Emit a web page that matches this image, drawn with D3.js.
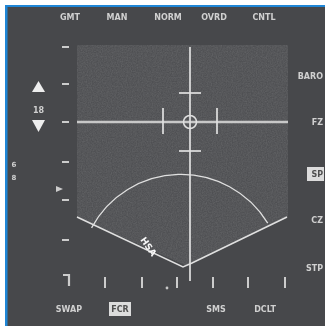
<!DOCTYPE html>
<html>
<head>
<meta charset="utf-8">
<script src="https://cdn.jsdelivr.net/npm/d3@7"></script>
<style>
  html, body { margin: 0; padding: 0; background: #fff; }
  svg { display: block; }
</style>
</head>
<body>
<div id="mfd"></div>
<script>
// Labels around the MFD (OSB legends)
const topLabels = ["GMT", "MAN", "NORM", "OVRD", "CNTL"];
const topLabelX = [70, 117, 168, 214, 264];
const rightLabels = ["BARO", "FZ", "SP", "CZ", "STP"];
const rightLabelY = [76, 122, 174, 220, 268];
const bottomLabels = ["SWAP", "FCR", "SMS", "DCLT"];
const bottomLabelX = [69, 120, 216, 265];
const boxedLabels = ["SP", "FCR"];
const rangeScaleText = "18";
const sideText = ["6", "8"];

// Tick marks (display units)
const rangeTicks = [47, 84, 122, 162, 200, 240];
const azTicks = [105, 142, 177, 213, 248, 285];

// Radar picture geometry (display units)
const radarArea = [[77, 45], [288, 45], [288, 217], [187, 266], [77, 217]];
const cursorX = 190, cursorY = 122;
const cursorTop = 47, cursorBottom = 281;
const cursorLeft = 77, cursorRight = 288;
const cursorHTicks = [93, 151];      // short horizontal bars on vertical line
const cursorVTicks = [163, 217];     // short vertical bars on horizontal line
const fovLine = [[77, 217], [183, 267], [192, 263], [287, 217]];
const rangeArc = { cx: 181, cy: 276, r: 101.6, from: 208.3, to: 328.6 };
const targetMark = { x: 148, y: 247, text: "HSA" };

const width = 325, height = 326;
const x = d3.scaleLinear().domain([0, 325]).range([0, width]);
const y = d3.scaleLinear().domain([0, 326]).range([0, height]);

const svg = d3.select("#mfd").append("svg")
  .attr("width", width).attr("height", height);

const defs = svg.append("defs");
const blur = defs.append("filter").attr("id", "soft");
blur.append("feGaussianBlur").attr("stdDeviation", 0.55);

const noise = defs.append("filter").attr("id", "noise")
  .attr("x", 0).attr("y", 0).attr("width", 1).attr("height", 1);
noise.append("feTurbulence").attr("type", "fractalNoise")
  .attr("baseFrequency", 0.8).attr("numOctaves", 2).attr("seed", 4);
noise.append("feColorMatrix").attr("type", "matrix")
  .attr("values", "0 0 0 0 1  0 0 0 0 1  0 0 0 0 1  0.16 0 0 0 -0.04");
noise.append("feComposite").attr("in2", "SourceGraphic").attr("operator", "in");

// frame: white margin, blue border, dark screen
svg.append("rect").attr("width", width).attr("height", height).attr("fill", "#fff");
svg.append("rect").attr("x", x(5)).attr("y", y(5))
  .attr("width", width - x(5)).attr("height", height - y(5)).attr("fill", "#1f86d6");
svg.append("rect").attr("x", x(7.5)).attr("y", y(7))
  .attr("width", width - x(7.5)).attr("height", height - y(7)).attr("fill", "#47484b");

// radar video area
const area = d3.line().x(d => x(d[0])).y(d => y(d[1]));
svg.append("path").attr("d", area(radarArea) + "Z").attr("fill", "#4f5053");
svg.append("path").attr("d", area(radarArea) + "Z").attr("fill", "#fff")
  .attr("filter", "url(#noise)");

const g = svg.append("g").attr("filter", "url(#soft)");
const ink = "#e0e0e0";

// cursor cross
g.append("line").attr("x1", x(cursorLeft)).attr("x2", x(cursorRight))
  .attr("y1", y(cursorY)).attr("y2", y(cursorY))
  .attr("stroke", "#c8c8c8").attr("stroke-width", 2.4);
g.append("line").attr("x1", x(cursorX)).attr("x2", x(cursorX))
  .attr("y1", y(cursorTop)).attr("y2", y(cursorBottom))
  .attr("stroke", ink).attr("stroke-width", 1.7);
g.selectAll(".hbar").data(cursorHTicks).enter().append("line")
  .attr("x1", x(cursorX - 11)).attr("x2", x(cursorX + 11))
  .attr("y1", d => y(d)).attr("y2", d => y(d))
  .attr("stroke", ink).attr("stroke-width", 1.7);
g.selectAll(".vbar").data(cursorVTicks).enter().append("line")
  .attr("x1", d => x(d)).attr("x2", d => x(d))
  .attr("y1", y(cursorY - 14)).attr("y2", y(cursorY + 12))
  .attr("stroke", ink).attr("stroke-width", 1.7);
g.append("circle").attr("cx", x(cursorX)).attr("cy", y(cursorY)).attr("r", 6.5)
  .attr("fill", "none").attr("stroke", ink).attr("stroke-width", 1.5);

// field of view lines and range arc
g.append("path").attr("d", area(fovLine))
  .attr("fill", "none").attr("stroke", ink).attr("stroke-width", 1.5);
const arcPath = d3.path();
const a0 = rangeArc.from * Math.PI / 180, a1 = rangeArc.to * Math.PI / 180;
arcPath.moveTo(x(rangeArc.cx + rangeArc.r * Math.cos(a0)), y(rangeArc.cy + rangeArc.r * Math.sin(a0)));
arcPath.arc(x(rangeArc.cx), y(rangeArc.cy), rangeArc.r, a0, a1, false);
g.append("path").attr("d", arcPath.toString())
  .attr("fill", "none").attr("stroke", ink).attr("stroke-width", 1.3);

// target symbol on the line
g.append("text").attr("x", x(targetMark.x)).attr("y", y(targetMark.y))
  .attr("transform", `rotate(55,${x(targetMark.x)},${y(targetMark.y)})`)
  .attr("text-anchor", "middle").attr("dominant-baseline", "middle")
  .attr("font-family", "DejaVu Sans").attr("font-weight", "bold").attr("font-size", 9)
  .attr("fill", "#f8f8f8").text(targetMark.text);

// left range ticks
g.selectAll(".rt").data(rangeTicks).enter().append("line")
  .attr("x1", x(62)).attr("x2", x(69))
  .attr("y1", d => y(d)).attr("y2", d => y(d))
  .attr("stroke", "#cccccc").attr("stroke-width", 2);
g.append("path")
  .attr("d", `M${x(56)},${y(186)}L${x(63)},${y(189)}L${x(56)},${y(192)}Z`)
  .attr("fill", "#cccccc");

// bottom azimuth ticks
g.selectAll(".at").data(azTicks).enter().append("line")
  .attr("x1", d => x(d)).attr("x2", d => x(d))
  .attr("y1", y(277)).attr("y2", y(288))
  .attr("stroke", "#cccccc").attr("stroke-width", 2);
g.append("path").attr("d", `M${x(63)},${y(275)}L${x(69)},${y(275)}L${x(69)},${y(286)}`)
  .attr("fill", "none").attr("stroke", "#cccccc").attr("stroke-width", 2.2);
g.append("circle").attr("cx", x(167)).attr("cy", y(288)).attr("r", 1.4).attr("fill", "#c8c8c8");

// range scale arrows
g.append("path").attr("d", `M${x(38.5)},${y(81)}L${x(45)},${y(92)}L${x(32)},${y(92)}Z`).attr("fill", "#eee");
g.append("path").attr("d", `M${x(32)},${y(120)}L${x(45)},${y(120)}L${x(38.5)},${y(132)}Z`).attr("fill", "#eee");

const label = (sel) => sel.attr("font-family", "DejaVu Sans").attr("font-weight", "bold")
  .attr("font-size", 8).attr("fill", "#d0d0d0").attr("dominant-baseline", "middle");

label(g.append("text")).attr("x", x(38.5)).attr("y", y(110)).attr("text-anchor", "middle").text(rangeScaleText);
label(g.selectAll(".side").data(sideText).enter().append("text"))
  .attr("x", x(14)).attr("y", (d, i) => y(165 + i * 13)).attr("text-anchor", "middle")
  .attr("font-size", 7).text(d => d);

label(g.selectAll(".top").data(topLabels).enter().append("text"))
  .attr("x", (d, i) => x(topLabelX[i])).attr("y", y(17)).attr("text-anchor", "middle").text(d => d);

// boxed (selected) labels
g.selectAll(".rbox").data(rightLabels.filter(d => boxedLabels.includes(d))).enter().append("rect")
  .attr("x", x(307)).attr("y", d => y(rightLabelY[rightLabels.indexOf(d)]) - 7)
  .attr("width", 17).attr("height", 14).attr("fill", "#dcdcdc");
g.selectAll(".bbox").data(bottomLabels.filter(d => boxedLabels.includes(d))).enter().append("rect")
  .attr("x", d => x(bottomLabelX[bottomLabels.indexOf(d)]) - 11).attr("y", y(309) - 7)
  .attr("width", 22).attr("height", 14).attr("fill", "#dcdcdc");

label(g.selectAll(".right").data(rightLabels).enter().append("text"))
  .attr("x", x(323)).attr("y", (d, i) => y(rightLabelY[i])).attr("text-anchor", "end")
  .attr("fill", d => boxedLabels.includes(d) ? "#505050" : "#d0d0d0").text(d => d);
label(g.selectAll(".bottom").data(bottomLabels).enter().append("text"))
  .attr("x", (d, i) => x(bottomLabelX[i])).attr("y", y(309)).attr("text-anchor", "middle")
  .attr("fill", d => boxedLabels.includes(d) ? "#505050" : "#d0d0d0").text(d => d);
</script>
</body>
</html>
